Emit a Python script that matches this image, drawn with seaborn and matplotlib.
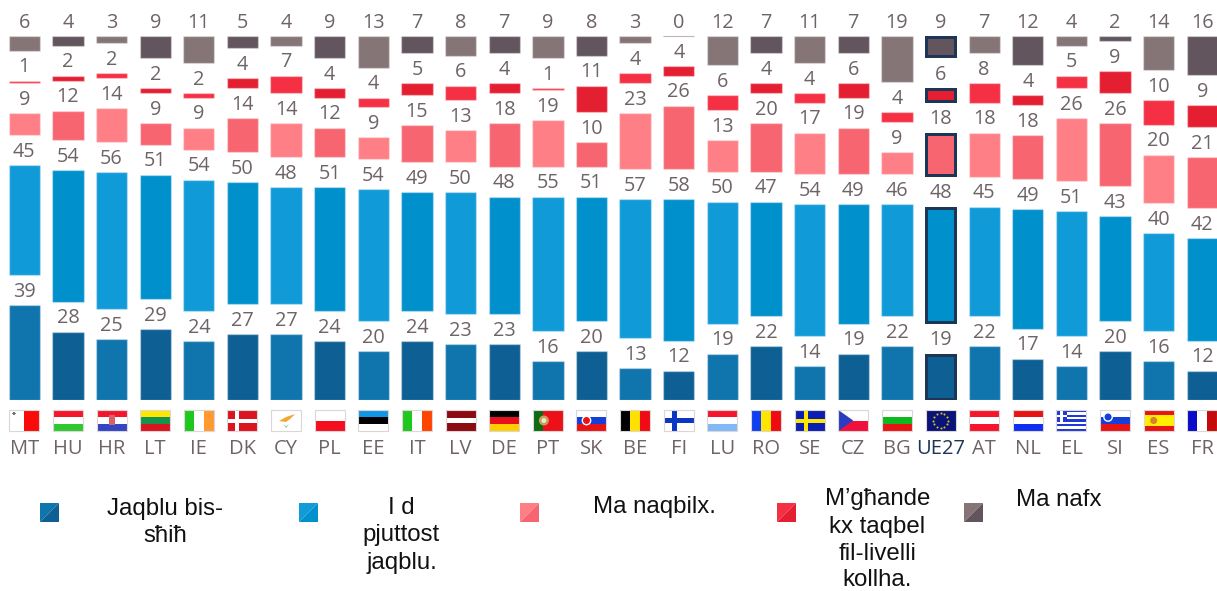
import numpy as np
import pandas as pd
import matplotlib
matplotlib.use("Agg")
import matplotlib.pyplot as plt
from matplotlib.patches import Rectangle, Polygon, Circle
import seaborn as sns

countries = ["MT","HU","HR","LT","IE","DK","CY","PL","EE","IT","LV","DE","PT","SK",
             "BE","FI","LU","RO","SE","CZ","BG","UE27","AT","NL","EL","SI","ES","FR"]
fully_agree = [39,28,25,29,24,27,27,24,20,24,23,23,16,20,13,12,19,22,14,19,22,19,22,17,14,20,16,12]
tend_agree  = [45,54,56,51,54,50,48,51,54,49,50,48,55,51,57,58,50,47,54,49,46,48,45,49,51,43,40,42]
disagree    = [9,12,14,9,9,14,14,12,9,15,13,18,19,10,23,26,13,20,17,19,9,18,18,18,26,26,20,21]
strongly    = [1,2,2,2,2,4,7,4,4,5,6,4,1,11,4,4,6,4,4,6,4,6,8,4,5,9,10,9]
dont_know   = [6,4,3,9,11,5,4,9,13,7,8,7,9,8,3,0,12,7,11,7,19,9,7,12,4,2,14,16]
series = [fully_agree, tend_agree, disagree, strongly, dont_know]

light = ["#1074ad", "#109bd8", "#ff7f87", "#f53044", "#857577"]
dark  = ["#0e6094", "#0090cc", "#f76570", "#e51f32", "#62555e"]
legend_labels = ["Jaqblu bis-\nsħiħ", "I d\npjuttost\njaqblu.", "Ma naqbilx.",
                 "M’għande\nkx taqbel\nfil-livelli\nkollha.", "Ma nafx"]

W, H = 1217, 591
PX_PER_UNIT = 2.44
BASE_PX = 400
GAP = 30 / PX_PER_UNIT
X0, DX = 24.3, 43.63
TXT = "#6e6367"
NAVY = "#1d3557"

sns.set_theme(style="white")
plt.rcParams["font.family"] = ["Open Sans", "DejaVu Sans"]

fig = plt.figure(figsize=(W / 100, H / 100), dpi=100, facecolor="white")
ax = fig.add_axes([0, (H - BASE_PX) / H, 1, BASE_PX / H])
ax.patch.set_alpha(0)

bottoms = np.zeros(len(countries))
eu = countries.index("UE27")
for k, vals in enumerate(series):
    df = pd.DataFrame({"country": countries, "value": vals})
    sns.barplot(data=df, x="country", y="value", order=countries, bottom=bottoms,
                width=0.717, color=light[k], errorbar=None, ax=ax, saturation=1,
                edgecolor=(1, 1, 1, 0.35), linewidth=1)
    cont = ax.containers[-1]
    for i, p in enumerate(cont.patches):
        p.set_facecolor(light[k] if i % 2 == 0 else dark[k])
        if vals[i] == 0:
            p.set_edgecolor("#bdb5b6")
            p.set_linewidth(0.8)
    ax.bar_label(cont, labels=[str(v) for v in vals], padding=2.4, fontsize=14.3, color=TXT)
    p = cont.patches[eu]
    dx, dy = 1.5 / DX, 1.5 / PX_PER_UNIT
    p.set_x(p.get_x() + dx); p.set_width(p.get_width() - 2 * dx)
    p.set_y(p.get_y() + dy); p.set_height(p.get_height() - 2 * dy)
    p.set_edgecolor(NAVY); p.set_linewidth(2.16)
    bottoms = bottoms + np.array(vals) + GAP

ax.set_xlim(-X0 / DX, (W - X0) / DX)
ax.set_ylim(0, BASE_PX / PX_PER_UNIT)
ax.set_xlabel(""); ax.set_ylabel(""); ax.set_yticks([])
sns.despine(ax=ax, left=True, bottom=True)
ax.tick_params(axis="x", length=0, pad=27.8, labelsize=14.5, labelcolor=TXT)
ax.get_xticklabels()[eu].set_color(NAVY)

# overlay in pixel coordinates for flags and the legend
ov = fig.add_axes([0, 0, 1, 1])
ov.set_xlim(0, W); ov.set_ylim(H, 0); ov.axis("off"); ov.patch.set_alpha(0)

FT, FH, FW = 410, 21, 30

def box(x, y, w, h, c, z=2):
    ov.add_patch(Rectangle((x, y), w, h, facecolor=c, edgecolor="none", zorder=z))

def stripes(i, colors, vertical=False):
    x = X0 + DX * i - FW / 2
    n = len(colors)
    for j, c in enumerate(colors):
        if vertical:
            box(x + j * FW / n, FT, FW / n, FH, c)
        else:
            box(x, FT + j * FH / n, FW, FH / n, c)
    ov.add_patch(Rectangle((x, FT), FW, FH, fill=False, edgecolor="#ddd6d6", lw=0.8, zorder=4))
    return x

H_FLAGS = {"HU": ["#f5162e", "#ffffff", "#2fc92f"], "HR": ["#f5162e", "#ffffff", "#3344c4"],
           "LT": ["#ffe600", "#16924f", "#d8141e"], "PL": ["#ffffff", "#f50f1e"],
           "EE": ["#1196e8", "#000000", "#ffffff"], "DE": ["#000000", "#e8101e", "#ffce00"],
           "LU": ["#f5162e", "#ffffff", "#82b8f5"], "BG": ["#ffffff", "#10b820", "#e81414"],
           "AT": ["#f5162e", "#ffffff", "#f5162e"], "NL": ["#e81414", "#ffffff", "#0f2ff0"],
           "SK": ["#ffffff", "#1440d8", "#e81414"], "SI": ["#ffffff", "#1440d8", "#e81414"],
           "LV": ["#8c0a12", "#8c0a12", "#ffffff", "#8c0a12", "#8c0a12"]}
V_FLAGS = {"IE": ["#1ec81e", "#ffffff", "#ff9a33"], "IT": ["#1ec81e", "#ffffff", "#ff4400"],
           "BE": ["#000000", "#ffe000", "#f00a14"], "RO": ["#0f3ff0", "#ffe600", "#f00a14"],
           "FR": ["#0a0ac8", "#ffffff", "#c40a0a"]}
for i, c in enumerate(countries):
    if c in H_FLAGS:
        x = stripes(i, H_FLAGS[c])
    elif c in V_FLAGS:
        x = stripes(i, V_FLAGS[c], vertical=True)
    elif c == "MT":
        x = stripes(i, ["#ffffff", "#fb0a0a"], vertical=True)
        box(x + 3, FT + 2.5, 3.5, 1.5, "#777", 3); box(x + 4, FT + 1.5, 1.5, 3.5, "#777", 3)
    elif c == "DK":
        x = stripes(i, ["#dc1420"])
        box(x + 8, FT, 4, FH, "white", 3); box(x, FT + 8.5, FW, 4, "white", 3)
    elif c == "CY":
        x = stripes(i, ["#ffffff"])
        ov.add_patch(Polygon([(x + 8, FT + 11), (x + 15, FT + 7), (x + 24, FT + 4), (x + 19, FT + 9),
                              (x + 15, FT + 12)], facecolor="#f0a830", edgecolor="none", zorder=3))
        ov.add_patch(Polygon([(x + 12, FT + 14), (x + 15, FT + 16.5), (x + 18, FT + 14), (x + 15, FT + 18)],
                             facecolor="#7ec87e", edgecolor="none", zorder=3))
    elif c == "PT":
        x = stripes(i, ["#0c6a14", "#ee1018", "#ee1018"], vertical=True)
        ov.add_patch(Circle((x + 11, FT + FH / 2), 5, facecolor="#c8a050", edgecolor="none", zorder=3))
        ov.add_patch(Circle((x + 11, FT + FH / 2), 2.4, facecolor="#e8e8e8", edgecolor="none", zorder=3))
    elif c == "FI":
        x = stripes(i, ["#ffffff"])
        box(x + 8, FT, 5, FH, "#0a36c4", 3); box(x, FT + 8, FW, 5, "#0a36c4", 3)
    elif c == "SE":
        x = stripes(i, ["#0a1eb4"])
        box(x + 9, FT, 4, FH, "#ffe600", 3); box(x, FT + 8.5, FW, 4, "#ffe600", 3)
    elif c == "CZ":
        x = stripes(i, ["#ffffff", "#f0103c"])
        ov.add_patch(Polygon([(x, FT), (x + 15, FT + FH / 2), (x, FT + FH)], facecolor="#2a3cc0",
                             edgecolor="none", zorder=3))
    elif c == "UE27":
        x = stripes(i, ["#0a1478"])
        a = np.deg2rad(np.arange(0, 360, 30))
        ov.scatter(x + FW / 2 + 7.5 * np.cos(a), FT + FH / 2 + 7.5 * np.sin(a), s=2.2, c="#d8c020",
                   linewidths=0, zorder=3)
    elif c == "EL":
        x = stripes(i, ["#2038d8", "#ffffff"] * 4 + ["#2038d8"])
        box(x, FT, 11, FH * 5 / 9, "#2038d8", 3)
        box(x + 4, FT, 2.5, FH * 5 / 9, "white", 3); box(x, FT + 4.5, 11, 2.4, "white", 3)
    elif c == "ES":
        x = stripes(i, ["#e81414", "#ffee00", "#ffee00", "#e81414"])
        ov.add_patch(Circle((x + 10, FT + FH / 2), 3.5, facecolor="#d88030", edgecolor="none", zorder=3))
    if c == "HR":
        box(x + 12, FT + 5, 6, 10, "#d8606a", 3)
    if c == "SK":
        ov.add_patch(Circle((x + 10, FT + FH / 2), 4.2, facecolor="#e81414", edgecolor="white", lw=1, zorder=3))
    if c == "SI":
        ov.add_patch(Circle((x + 8, FT + 7), 4.2, facecolor="#1440d8", edgecolor="white", lw=1, zorder=3))

# legend
swatch_x = [40, 299, 520, 777, 964]
text_x = [165, 401.5, 654, 877.5, 1059]
text_y = [506, 506, 505, 497, 497]
SW, SY = 19, 503
for k in range(5):
    x = swatch_x[k]
    ov.add_patch(Polygon([(x, SY), (x + SW, SY), (x, SY + SW)], facecolor=light[k], edgecolor="none"))
    ov.add_patch(Polygon([(x + SW, SY), (x + SW, SY + SW), (x, SY + SW)], facecolor=dark[k], edgecolor="none"))
    for n, line in enumerate(legend_labels[k].split("\n")):
        ov.text(text_x[k], text_y[k] + n * 27.0, line, ha="center", va="center_baseline",
                fontsize=17.3, family="Liberation Sans", color="#111111")

fig.savefig("out.png", dpi=100)
